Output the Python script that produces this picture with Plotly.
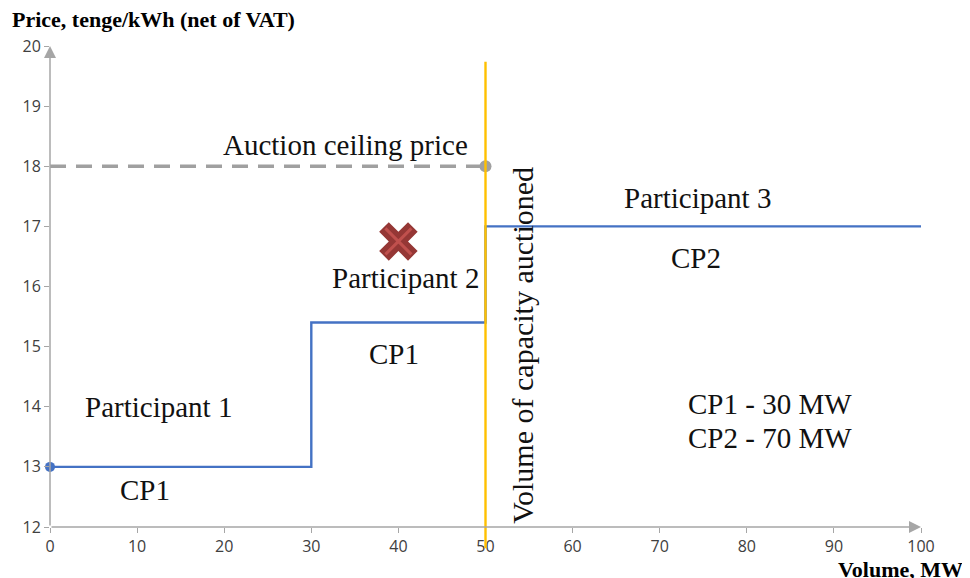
import plotly.graph_objects as go

# Offer curve (volume MW, price tenge/kWh)
offer_volume = [0, 30, 30, 50, 50, 100]
offer_price = [13, 13, 15.4, 15.4, 17, 17]

ceiling_volume = [0, 50]
ceiling_price = [18, 18]

auction_volume = 50
rejected_bid = (40, 16.75)

labels = [
    ("Auction ceiling price", 33.9, 18.36),
    ("Participant 3", 74.3, 17.47),
    ("CP2", 74.2, 16.48),
    ("Participant 2", 40.8, 16.14),
    ("CP1", 39.5, 14.88),
    ("Participant 1", 12.4, 14.0),
    ("CP1", 10.9, 12.62),
    ("CP1 - 30 MW", 82.7, 14.05),
    ("CP2 - 70 MW", 82.7, 13.48),
]

AXIS_GREY = "#A6A6A6"
SERIF = "Liberation Serif, Times New Roman, serif"

fig = go.Figure()

fig.add_trace(go.Scatter(
    x=ceiling_volume, y=ceiling_price, mode="lines",
    line=dict(color="#A0A0A0", width=3.5, dash="16px,10px"),
))
fig.add_trace(go.Scatter(
    x=ceiling_volume[-1:], y=ceiling_price[-1:], mode="markers",
    marker=dict(color="#A0A0A0", size=12), cliponaxis=False,
))
fig.add_trace(go.Scatter(
    x=offer_volume, y=offer_price, mode="lines",
    line=dict(color="#4472C4", width=2.4),
))
fig.add_trace(go.Scatter(
    x=offer_volume[:1], y=offer_price[:1], mode="markers",
    marker=dict(color="#4472C4", size=10), cliponaxis=False,
))
# rejected bid
fig.add_trace(go.Scatter(
    x=[rejected_bid[0]], y=[rejected_bid[1]], mode="markers",
    marker=dict(symbol="x", color="#953735", size=34, line=dict(width=0)),
))
fig.add_trace(go.Scatter(
    x=[rejected_bid[0]], y=[rejected_bid[1]], mode="markers",
    marker=dict(symbol="x-thin", size=26, line=dict(color="#C0504D", width=3)),
))

# auctioned capacity line
fig.add_shape(
    type="line", xref="x", yref="paper",
    x0=auction_volume, x1=auction_volume, y0=-0.044, y1=0.967,
    line=dict(color="#FFC000", width=2.4),
)

for text, x, y in labels:
    fig.add_annotation(x=x, y=y, text=text, showarrow=False,
                       font=dict(family=SERIF, size=29, color="#111"))

fig.add_annotation(x=54.3, y=15.03, text="Volume of capacity auctioned",
                   textangle=-90, showarrow=False,
                   font=dict(family=SERIF, size=30, color="#111"))

# axis arrows
fig.add_annotation(x=0, y=20, ax=0, ay=12, xref="x", yref="y", axref="x", ayref="y",
                   text="", showarrow=True, arrowhead=2, arrowsize=1.6,
                   arrowwidth=1.5, arrowcolor=AXIS_GREY)
fig.add_annotation(x=100, y=12, ax=0, ay=12, xref="x", yref="y", axref="x", ayref="y",
                   text="", showarrow=True, arrowhead=2, arrowsize=1.6,
                   arrowwidth=1.5, arrowcolor=AXIS_GREY)

fig.add_annotation(x=-0.046, y=1.085, xref="paper", yref="paper", xanchor="left", yanchor="top",
                   text="<b>Price, tenge/kWh (net of VAT)</b>", showarrow=False,
                   font=dict(family=SERIF, size=22, color="#000"))
fig.add_annotation(x=1.05, y=-0.118, xref="paper", yref="paper", xanchor="right", yanchor="bottom",
                   text="<b>Volume, MW</b>", showarrow=False,
                   font=dict(family=SERIF, size=22, color="#000"))

tick_font = dict(family="Open Sans, Liberation Sans, sans-serif", size=16, color="#404040")
fig.update_xaxes(range=[0, 100], tickvals=list(range(0, 101, 10)), showgrid=False,
                 zeroline=False, showline=False, ticks="outside", ticklen=5,
                 tickcolor=AXIS_GREY, tickfont=tick_font, automargin=False)
fig.update_yaxes(range=[12, 20], tickvals=list(range(12, 21)), showgrid=False,
                 zeroline=False, showline=False, ticks="outside", ticklen=5,
                 tickcolor=AXIS_GREY, tickfont=tick_font, automargin=False)

# page body has an 8px margin, so the figure is sized to fit inside the window
fig.update_layout(
    width=962, height=570,
    template="plotly_white",
    showlegend=False,
    plot_bgcolor="white", paper_bgcolor="white",
    margin=dict(l=42, r=49, t=38, b=51, autoexpand=False),
)

fig.write_html("out.html")
